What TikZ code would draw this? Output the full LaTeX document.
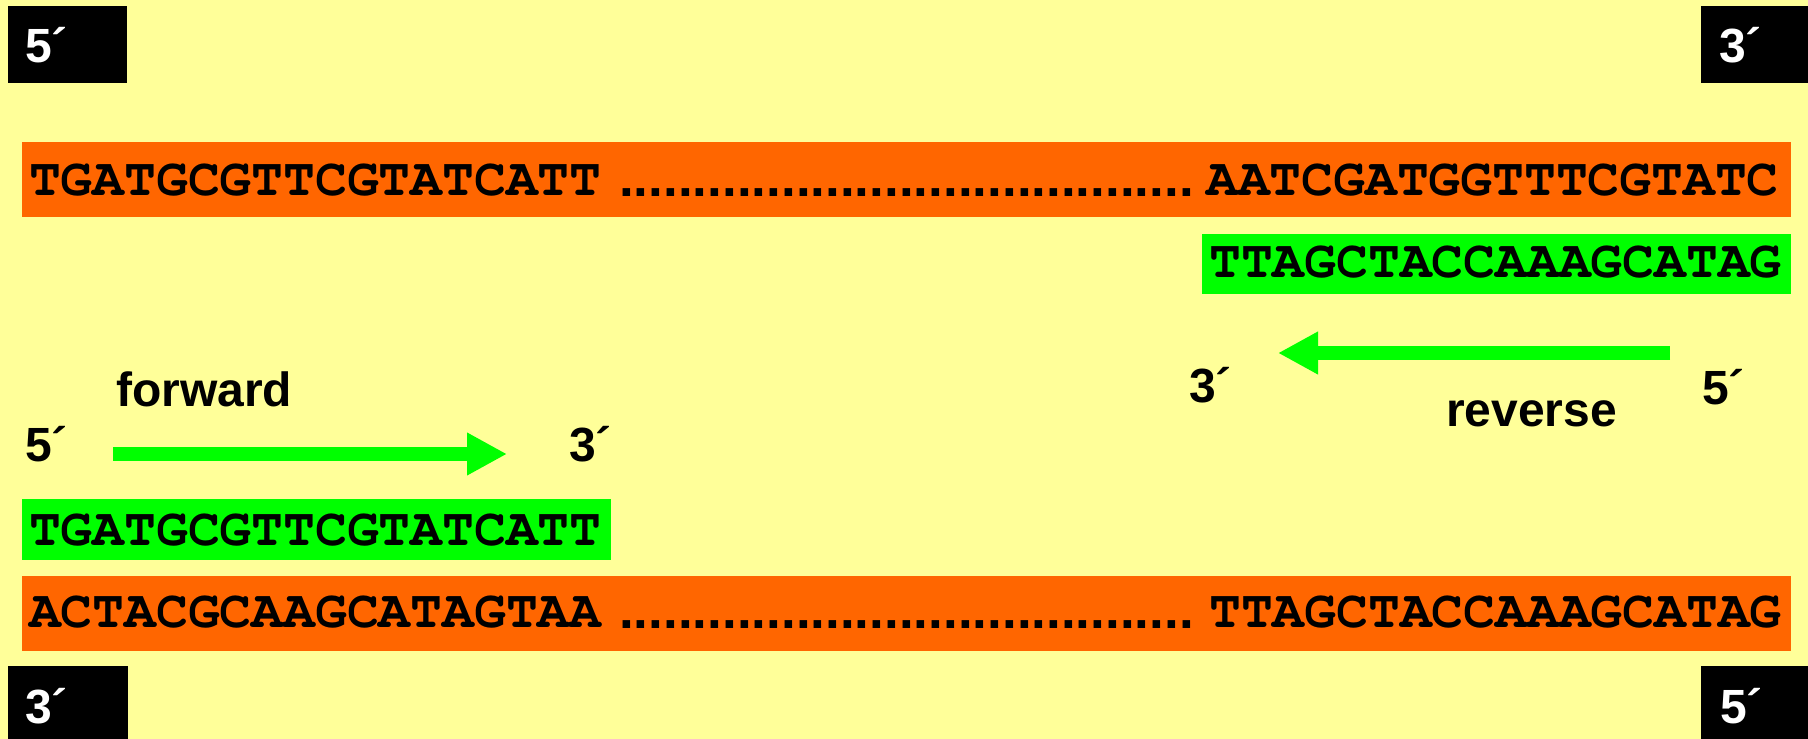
\documentclass[tikz,border=0pt]{standalone}
\usepackage[T1]{fontenc}
\usepackage{fontspec}
\usetikzlibrary{arrows.meta}
\newfontfamily\lblfont{Liberation Sans}
\newcommand\seqfont{\fontencoding{T1}\fontfamily{pcr}\fontseries{b}\fontshape{n}\fontsize{53}{60}\selectfont}
\definecolor{bgyellow}{HTML}{FFFF99}
\definecolor{strandorange}{HTML}{FF6600}
\definecolor{primergreen}{HTML}{00FF00}
\tikzset{
  seq/.style={font=\seqfont, inner sep=0pt, anchor=base west, text=black},
  dotrow/.style={font={\lblfont\bfseries\fontsize{53}{60}\selectfont}, inner sep=0pt, anchor=base west},
  lbl/.style={font={\lblfont\bfseries\fontsize{48}{50}\selectfont}, inner sep=0pt, anchor=base west},
  endlbl/.style={lbl, text=white},
  primerarrow/.style={primergreen, line width=14pt, -{Triangle[length=40pt,width=40pt]}},
}
\begin{document}
\begin{tikzpicture}[x=1pt,y=-1pt]
\useasboundingbox (0,0) rectangle (1808,739);
\fill[bgyellow] (0,0) rectangle (1808,739);

% strand end markers
\fill[black] (8,6) rectangle (127,83);
\fill[black] (1701,6) rectangle (1808,83);
\fill[black] (8,666) rectangle (128,739);
\fill[black] (1701,666) rectangle (1808,739);
\node[endlbl] (endTL) at (25,62) {5´};
\node[endlbl] (endTR) at (1719,62) {3´};
\node[endlbl] (endBL) at (25,723) {3´};
\node[endlbl] (endBR) at (1720,723) {5´};

% template strands
\fill[strandorange] (22,142) rectangle (1791,217);
\fill[strandorange] (22,576) rectangle (1791,651);
% primers
\fill[primergreen] (1202,234) rectangle (1791,294);
\fill[primergreen] (22,499) rectangle (611,560);

\node[seq] (topL) at (29,195) {TGATGCGTTCGTATCATT};
\node[dotrow] (topDots) at (619,196) {.......................................};
\node[seq] (topR) at (1206,195) {AATCGATGGTTTCGTATC};
\node[seq] (primR) at (1209,277) {TTAGCTACCAAAGCATAG};
\node[seq] (primF) at (29,545) {TGATGCGTTCGTATCATT};
\node[seq] (botL) at (29,627) {ACTACGCAAGCATAGTAA};
\node[dotrow] (botDots) at (619,628) {.......................................};
\node[seq] (botR) at (1209,627) {TTAGCTACCAAAGCATAG};

% primer direction labels
\node[lbl] (fwd) at (116,406) {forward};
\node[lbl] (f5) at (25,461) {5´};
\node[lbl] (f3) at (569,461) {3´};
\node[lbl] (r3) at (1189,402) {3´};
\node[lbl] (rev) at (1446,426) {reverse};
\node[lbl] (r5) at (1702,404) {5´};

\coordinate (fwdStart) at (113,454);
\coordinate (fwdEnd) at (507,454);
\coordinate (revStart) at (1670,353);
\coordinate (revEnd) at (1278,353);
\draw[primerarrow] (fwdStart) -- (fwdEnd);
\draw[primerarrow] (revStart) -- (revEnd);
\end{tikzpicture}
\end{document}
